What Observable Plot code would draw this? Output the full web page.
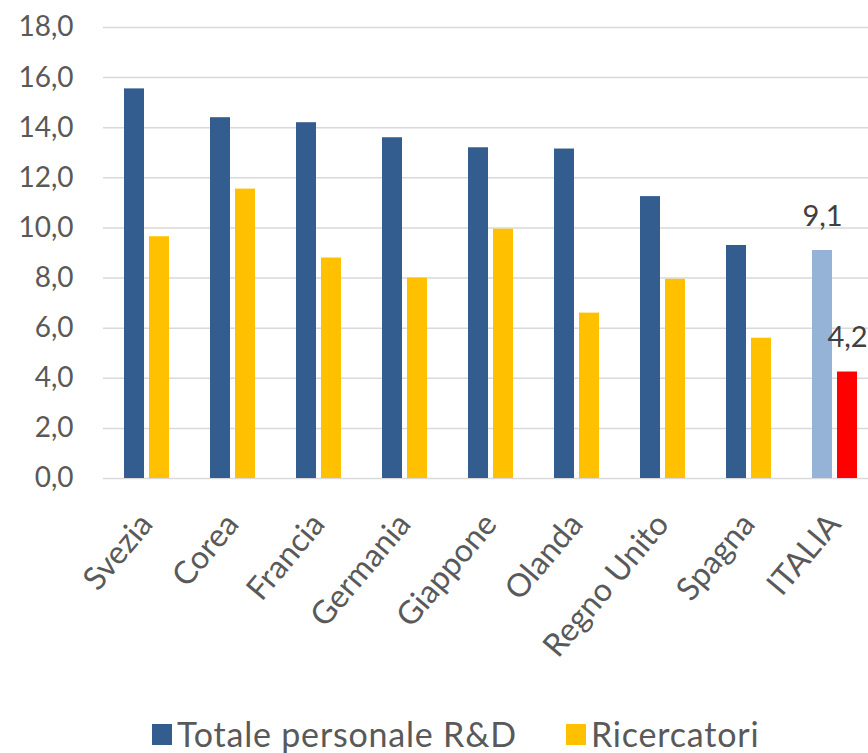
<!DOCTYPE html>
<html>
<head>
<meta charset="utf-8">
<script src="https://cdn.jsdelivr.net/npm/d3@7"></script>
<script src="https://cdn.jsdelivr.net/npm/@observablehq/plot@0.6"></script>
<style>
  html, body { margin: 0; padding: 0; background: #fff; overflow: hidden; width: 868px; height: 753px; }
  #chart svg { overflow: hidden; display: block; }
  #legend { position: relative; height: 63px; font-family: Lato, "Noto Sans", sans-serif; font-size: 34px; line-height: 1; letter-spacing: 0.8px; color: #595959; }
  .item { position: absolute; top: 27px; display: flex; align-items: center; }
  .sw { width: 20px; height: 21px; margin-right: 5px; }
</style>
</head>
<body>
<div id="chart"></div>
<div id="legend"></div>
<script>
const countries = ["Svezia", "Corea", "Francia", "Germania", "Giappone", "Olanda", "Regno Unito", "Spagna", "ITALIA"];
const totale = [15.55, 14.4, 14.2, 13.6, 13.2, 13.15, 11.25, 9.3, 9.1];
const ricercatori = [9.65, 11.55, 8.8, 8.0, 9.95, 6.6, 7.95, 5.6, 4.25];
const seriesNames = ["Totale personale R&D", "Ricercatori"];
const yTicks = [0, 2, 4, 6, 8, 10, 12, 14, 16, 18];
const highlight = "ITALIA";
const labelValues = ["9,1", "4,2"];

const colors = {
  "Totale personale R&D": "#335c8f",
  "Ricercatori": "#ffc000"
};
const highlightColors = {
  "Totale personale R&D": "#95b3d7",
  "Ricercatori": "#ff0000"
};

const rows = [];
countries.forEach((c, i) => {
  rows.push({country: c, series: seriesNames[0], value: totale[i]});
  rows.push({country: c, series: seriesNames[1], value: ricercatori[i]});
});
const labelRows = rows.filter(d => d.country === highlight).map((d, i) => ({...d, label: labelValues[i]}));

const fmt = v => v.toFixed(1).replace(".", ",");
const font = "Lato, 'Noto Sans', sans-serif";

const chart = Plot.plot({
  width: 868,
  height: 690,
  marginTop: 27,
  marginBottom: 212,
  marginLeft: 102,
  marginRight: 0,
  style: {fontFamily: font, fontSize: "27px", color: "#595959", background: "#fff", overflow: "hidden"},
  fx: {domain: countries, range: [102, 878], padding: 0, label: null},
  x: {domain: seriesNames, paddingInner: 0.2, paddingOuter: 0.82, axis: null},
  y: {domain: [0, 18], label: null},
  marks: [
    Plot.ruleY(yTicks, {stroke: "#d9d9d9", strokeWidth: 1.5}),
    Plot.barY(rows, {
      fx: "country",
      x: "series",
      y: "value",
      fill: d => d.country === highlight ? highlightColors[d.series] : colors[d.series]
    }),
    Plot.text(labelRows, {
      fx: "country",
      x: "series",
      y: "value",
      text: "label",
      dy: -34,
      fill: "#404040",
      fontSize: 29
    }),
    Plot.axisY({
      ticks: yTicks,
      tickFormat: fmt,
      tickSize: 0,
      tickPadding: 30,
      label: null,
      fill: "#595959",
      fontSize: 28
    }),
    Plot.axisFx({
      anchor: "bottom",
      tickSize: 0,
      tickRotate: -50,
      tickPadding: 40,
      label: null,
      fill: "#595959",
      fontSize: 32
    })
  ]
});
document.getElementById("chart").appendChild(chart);

const legend = document.getElementById("legend");
const positions = [152, 566];
seriesNames.forEach((s, i) => {
  const item = document.createElement("div");
  item.className = "item";
  item.style.left = positions[i] + "px";
  const sw = document.createElement("div");
  sw.className = "sw";
  sw.style.background = colors[s];
  const t = document.createElement("span");
  t.textContent = s;
  item.appendChild(sw);
  item.appendChild(t);
  legend.appendChild(item);
});
</script>
</body>
</html>
